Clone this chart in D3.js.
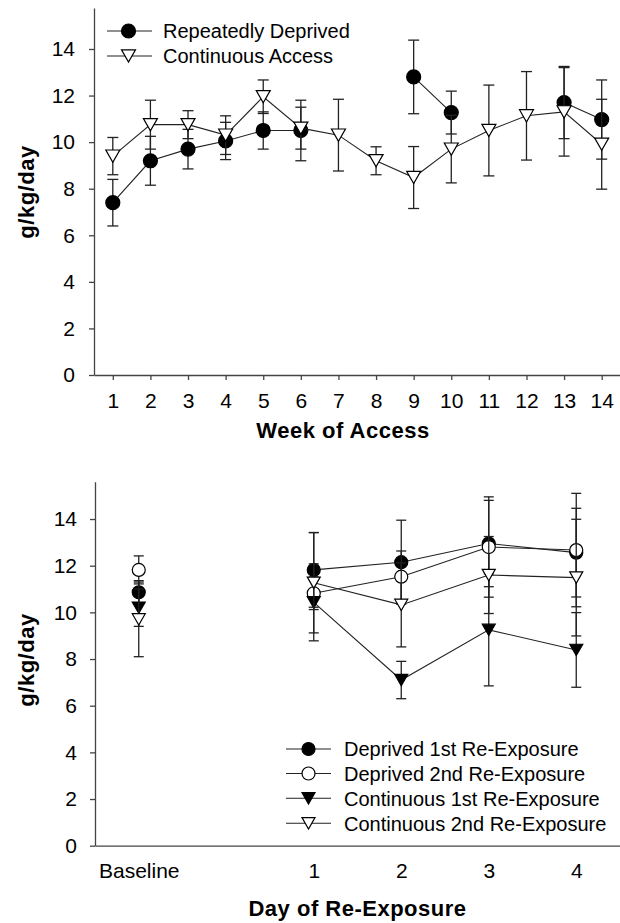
<!DOCTYPE html>
<html>
<head>
<meta charset="utf-8">
<script src="https://cdn.jsdelivr.net/npm/d3@7"></script>
<style>
  body { margin: 0; background: #fff; }
  svg { display: block; font-family: "Liberation Sans", Arial, sans-serif; }
  .axis path, .axis line { stroke: #444; stroke-width: 1.3; }
  .axis text { font-size: 21px; fill: #000; font-family: "Liberation Sans", Arial, sans-serif; }
  .title { font-size: 22px; font-weight: bold; letter-spacing: 0.5px; }
  .leg { font-size: 20px; }
</style>
</head>
<body>
<svg id="chart" width="620" height="923"></svg>
<script>
// ---- top panel: weekly intake ----
var weeks = [1, 2, 3, 4, 5, 6, 7, 8, 9, 10, 11, 12, 13, 14];
var deprivedMean = [7.4, 9.2, 9.7, 10.05, 10.5, 10.5, null, null, 12.8, 11.27, null, null, 11.7, 10.97];
var deprivedErr  = [1.0, 1.05, 0.85, 0.8, 0.8, 1.3, null, null, 1.58, 0.92, null, null, 1.55, 1.7];
var continuousMean = [9.4, 10.75, 10.75, 10.3, 11.95, 10.6, 10.3, 9.2, 8.48, 9.7, 10.5, 11.13, 11.3, 9.91];
var continuousErr  = [0.8, 1.05, 0.6, 0.83, 0.72, 0.9, 1.54, 0.6, 1.33, 1.45, 1.95, 1.9, 1.9, 1.93];
var yTicks = [0, 2, 4, 6, 8, 10, 12, 14];

// ---- bottom panel: re-exposure days ----
var dayLabels = ["Baseline", "1", "2", "3", "4"];
var dayPos = [-1, 1, 2, 3, 4];
var dep1Mean = [10.86, 11.82, 12.15, 12.95, 12.56];
var dep1Err  = [0.5, 1.6, 1.8, 1.85, 1.9];
var dep2Mean = [11.82, 10.82, 11.53, 12.8, 12.67];
var dep2Err  = [0.6, 0.7, 1.1, 2.15, 2.43];
var con1Mean = [10.2, 10.43, 7.1, 9.25, 8.39];
var con1Err  = [0.8, 1.65, 0.8, 2.4, 1.6];
var con2Mean = [9.7, 11.27, 10.32, 11.6, 11.49];
var con2Err  = [1.6, 2.15, 1.8, 1.65, 2.5];

var svg = d3.select("#chart");
var ink = "#222";

function marker(g, kind, x, y, s) {
  // kind: circle / ocircle / tri / otri
  var fill = (kind == "circle" || kind == "tri") ? "#000" : "#fff";
  if (kind == "circle" || kind == "ocircle") {
    g.append("circle").attr("cx", x).attr("cy", y).attr("r", s)
      .attr("fill", fill).attr("stroke", "#000").attr("stroke-width", 1.2);
  } else {
    var w = s * 2, h = s * 1.75;
    g.append("path")
      .attr("d", "M" + (x - w / 2) + "," + (y - h / 2) + "L" + (x + w / 2) + "," + (y - h / 2) + "L" + x + "," + (y + h / 2) + "Z")
      .attr("fill", fill).attr("stroke", "#000").attr("stroke-width", 1.2);
  }
}

function drawSeries(g, x, y, xs, mean, err, kind, size, cap, linked) {
  var pts = xs.map(function(d, i) { return { x: d, m: mean[i], e: err[i] }; });
  var line = d3.line()
    .defined(function(d) { return d.m != null; })
    .x(function(d) { return x(d.x); })
    .y(function(d) { return y(d.m); });
  g.append("path").datum(pts.filter(function(d, i) { return linked(i); }))
    .attr("d", line).attr("fill", "none").attr("stroke", ink).attr("stroke-width", 1.1);
  pts.forEach(function(d) {
    if (d.m == null) return;
    var px = x(d.x), ya = y(d.m + d.e), yb = y(d.m - d.e);
    g.append("line").attr("x1", px).attr("x2", px).attr("y1", ya).attr("y2", yb)
      .attr("stroke", ink).attr("stroke-width", 1.3);
    [ya, yb].forEach(function(yy) {
      g.append("line").attr("x1", px - cap).attr("x2", px + cap).attr("y1", yy).attr("y2", yy)
        .attr("stroke", ink).attr("stroke-width", 1.3);
    });
  });
  pts.forEach(function(d) {
    if (d.m == null) return;
    marker(g, kind, x(d.x), y(d.m), size);
  });
}

// ================= TOP =================
var xTop = d3.scaleLinear().domain([0.5, 14.5]).range([94, 620.5]);
var yTop = d3.scaleLinear().domain([0, 15.76]).range([375, 8]);

svg.append("g").attr("class", "axis").attr("transform", "translate(0,375)")
  .call(d3.axisBottom(xTop).tickValues(weeks).tickFormat(d3.format("d")).tickSize(5).tickPadding(13).tickSizeOuter(0));
svg.append("g").attr("class", "axis").attr("transform", "translate(94,0)")
  .call(d3.axisLeft(yTop).tickValues(yTicks).tickSize(5).tickPadding(14).tickSizeOuter(0));

var gTop = svg.append("g");
drawSeries(gTop, xTop, yTop, weeks, deprivedMean, deprivedErr, "circle", 7, 5.5, function() { return true; });
drawSeries(gTop, xTop, yTop, weeks, continuousMean, continuousErr, "otri", 7, 5.5, function() { return true; });

svg.append("text").attr("class", "title").attr("x", 343).attr("y", 438).attr("text-anchor", "middle").text("Week of Access");
svg.append("text").attr("class", "title").attr("text-anchor", "middle")
  .attr("transform", "translate(34,192) rotate(-90)").text("g/kg/day");

var legTop = [["Repeatedly Deprived", "circle", 31], ["Continuous Access", "otri", 56]];
legTop.forEach(function(l) {
  svg.append("line").attr("x1", 107).attr("x2", 152).attr("y1", l[2]).attr("y2", l[2]).attr("stroke", ink).attr("stroke-width", 1.1);
  marker(svg, l[1], 128.5, l[2], 7);
  svg.append("text").attr("class", "leg").attr("x", 163).attr("y", l[2]).attr("dy", "0.36em").text(l[0]);
});

// ================= BOTTOM =================
var xBot = d3.scaleLinear().domain([-1.5, 4.5]).range([95, 620]);
var yBot = d3.scaleLinear().domain([0, 15.6]).range([845.7, 481.7]);

svg.append("g").attr("class", "axis").attr("transform", "translate(0,845.7)")
  .call(d3.axisBottom(xBot).tickValues(dayPos).tickFormat(function(d, i) { return dayLabels[i]; })
    .tickSize(0).tickPadding(17).tickSizeOuter(0));
svg.append("g").attr("class", "axis").attr("transform", "translate(95,0)")
  .call(d3.axisLeft(yBot).tickValues(yTicks).tickSize(5).tickPadding(13).tickSizeOuter(0));

var gBot = svg.append("g");
var onlyDays = function(i) { return i > 0; };
drawSeries(gBot, xBot, yBot, dayPos, dep1Mean, dep1Err, "circle", 6.5, 5, onlyDays);
drawSeries(gBot, xBot, yBot, dayPos, dep2Mean, dep2Err, "ocircle", 6.5, 5, onlyDays);
drawSeries(gBot, xBot, yBot, dayPos, con1Mean, con1Err, "tri", 6.5, 5, onlyDays);
drawSeries(gBot, xBot, yBot, dayPos, con2Mean, con2Err, "otri", 6.5, 5, onlyDays);

svg.append("text").attr("class", "title").attr("x", 357.5).attr("y", 916).attr("text-anchor", "middle").text("Day of Re-Exposure");
svg.append("text").attr("class", "title").attr("text-anchor", "middle")
  .attr("transform", "translate(34,660) rotate(-90)").text("g/kg/day");

var legBot = [
  ["Deprived 1st Re-Exposure", "circle", 749],
  ["Deprived 2nd Re-Exposure", "ocircle", 773.5],
  ["Continuous 1st Re-Exposure", "tri", 798.3],
  ["Continuous 2nd Re-Exposure", "otri", 823.3]
];
legBot.forEach(function(l) {
  svg.append("line").attr("x1", 286).attr("x2", 331).attr("y1", l[2]).attr("y2", l[2]).attr("stroke", ink).attr("stroke-width", 1.1);
  marker(svg, l[1], 308.5, l[2], 6.5);
  svg.append("text").attr("class", "leg").attr("x", 344).attr("y", l[2]).attr("dy", "0.36em").text(l[0]);
});
</script>
</body>
</html>
